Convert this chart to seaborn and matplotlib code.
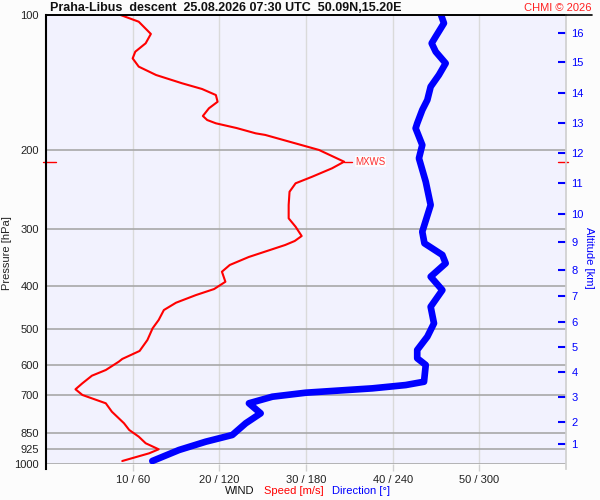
import numpy as np
import pandas as pd
import matplotlib
matplotlib.use('Agg')
import matplotlib.pyplot as plt
from matplotlib.lines import Line2D
from matplotlib.ticker import NullLocator, NullFormatter
import seaborn as sns

# wind speed profile (descent), pressure [hPa] / speed [m/s]
speed_p = [100.0, 103.5, 110.2, 115.6, 120.7, 124.9, 130.3, 136.0, 141.9, 146.1,
           150.7, 156.0, 161.3, 167.8, 171.3, 174.2, 178.5, 183.4, 184.9, 199.7,
           212.1, 219.4, 229.1, 236.9, 247.4, 264.8, 283.5, 296.0, 310.4, 318.4,
           325.0, 345.6, 360.1, 372.7, 392.4, 407.3, 420.1, 436.9, 453.6, 477.3,
           498.1, 528.9, 559.4, 582.8, 591.0, 616.8, 635.0, 660.2, 680.8, 701.0,
           731.5, 763.7, 810.3, 838.6, 867.9, 897.7, 926.0, 945.2, 978.2, 983.3]
speed_ms = [8.6, 10.7, 12.1, 11.5, 10.3, 10.0, 10.7, 12.7, 15.7, 18.0,
            19.6, 19.8, 18.8, 18.1, 18.6, 19.6, 22.0, 24.2, 25.3, 31.5,
            34.4, 33.0, 30.7, 28.8, 28.1, 28.0, 28.0, 28.8, 29.5, 28.7,
            27.6, 23.4, 21.2, 20.3, 20.7, 19.4, 17.3, 15.0, 13.6, 13.0,
            12.3, 11.7, 10.8, 8.8, 8.4, 6.9, 5.3, 4.2, 3.4, 4.2,
            6.9, 7.6, 9.0, 9.6, 10.7, 11.5, 13.0, 11.9, 9.2, 8.8]

# wind direction profile, pressure [hPa] / direction [deg]
dir_p = [100.0, 104.3, 111.7, 115.6, 120.7, 128.1, 136.0, 144.4, 154.6, 162.7,
         174.2, 178.7, 194.7, 208.4, 235.0, 264.8, 303.6, 322.2, 342.0, 357.0,
         382.3, 409.5, 446.0, 485.6, 520.0, 556.6, 580.8, 601.1, 655.0, 666.2,
         677.6, 692.9, 707.2, 731.5, 770.1, 810.3, 860.4, 890.6, 929.3, 983.3]
dir_deg = [273.5, 275.5, 269.8, 267.0, 269.8, 276.7, 272.0, 266.3, 264.0, 260.5,
           257.0, 255.9, 260.5, 258.2, 262.9, 266.3, 260.5, 262.0, 274.4, 276.7,
           266.3, 274.4, 266.3, 268.6, 264.0, 257.0, 257.0, 262.9, 261.7, 249.0,
           225.9, 179.8, 156.7, 140.5, 148.6, 138.3, 129.0, 110.6, 92.1, 73.6]

# altitude scale on the right
alt_km = list(range(1, 17))
alt_p = [902.8, 803.9, 708.4, 624.2, 549.1, 483.1, 423.0, 368.8,
         319.6, 276.8, 236.9, 203.1, 173.6, 149.4, 127.4, 109.8]

p_ticks = [100, 200, 300, 400, 500, 600, 700, 850, 925, 1000]
speed_ticks = [10, 20, 30, 40, 50]
dir_ticks = [60, 120, 180, 240, 300]

mxws_p = 212.1
mxws_speed = 34.4

sns.set_theme(style='white')
plt.rcParams['font.family'] = ['Liberation Sans', 'DejaVu Sans']

fig = plt.figure(figsize=(6, 5), dpi=100, facecolor='#fcfcfc')
ax = fig.add_axes([46 / 600, 1 - 464.3 / 500, 520 / 600, 449.3 / 500])
ax.set_facecolor('#f2f2fe')

sns.lineplot(x=speed_ms, y=speed_p, sort=False, estimator=None,
             color='#ff0000', linewidth=1.5, solid_joinstyle='round', ax=ax)
ax.set_yscale('log')
ax.set_ylim(1000, 100)
ax.set_xlim(0, 60)
ax.set_yticks(p_ticks, labels=[str(p) for p in p_ticks])
ax.yaxis.set_minor_locator(NullLocator())
ax.yaxis.set_minor_formatter(NullFormatter())
ax.set_xticks(speed_ticks, labels=[f"{s} / {d}" for s, d in zip(speed_ticks, dir_ticks)])
ax.grid(axis='y', color='#a8a8a8', lw=1.2)
ax.grid(axis='x', color='#dadada', lw=1.0)
ax.tick_params(axis='y', length=0, pad=5, labelsize=8, labelcolor='#222222')
ax.tick_params(axis='x', length=5, width=1, color='#d0d0d0', pad=3,
               labelsize=8, labelcolor='#222222', bottom=True)
ax.set_xlabel('')
ax.set_ylabel('Pressure [hPa]', fontsize=8, color='#222222')
ax.yaxis.set_label_coords(-0.066, 0.47)
for side in ['right', 'bottom']:
    ax.spines[side].set_visible(False)
ax.spines['left'].set_color('black')
ax.spines['left'].set_linewidth(1.5)
ax.spines['left'].set_bounds(1024, 100)
ax.spines['top'].set_color('black')
ax.spines['top'].set_linewidth(1.2)

# direction on its own x scale (0-360) sharing pressure
ax_dir = ax.twiny()
sns.lineplot(x=dir_deg, y=dir_p, sort=False, estimator=None,
             color='#0000ff', linewidth=4.8, solid_capstyle='round',
             solid_joinstyle='round', ax=ax_dir)
ax_dir.set_xlim(0, 360)
ax_dir.set_xticks([])
ax_dir.set_xlabel('')
ax_dir.set_ylabel('')
for s in ax_dir.spines.values():
    s.set_visible(False)

# altitude axis
ax_alt = ax.twinx()
ax_alt.set_yscale('log')
ax_alt.set_ylim(1000, 100)
ax_alt.set_yticks(alt_p, labels=[str(k) for k in alt_km])
ax_alt.yaxis.set_minor_locator(NullLocator())
ax_alt.yaxis.set_minor_formatter(NullFormatter())
ax_alt.tick_params(axis='y', direction='in', length=6, width=1.5, color='#0000ff',
                   labelcolor='#0000ff', labelsize=8, pad=4)
ax_alt.set_ylabel('Altitude [km]', rotation=270, color='#0000ff', fontsize=8,
                  ha='center', va='center')
ax_alt.yaxis.set_label_coords(1.044, 0.46)
for side in ['left', 'top', 'bottom']:
    ax_alt.spines[side].set_visible(False)
ax_alt.spines['right'].set_color('#d0d0d0')
ax_alt.spines['right'].set_bounds(1024, 100)

# maximum wind marker
trans = ax.get_yaxis_transform()
ax.plot([-0.006, 0.019], [mxws_p, mxws_p], transform=trans, color='red', lw=1, clip_on=False)
ax.plot([0.984, 1.004], [mxws_p, mxws_p], transform=trans, color='red', lw=1, clip_on=False)
ax.plot([mxws_speed, mxws_speed + 0.9], [mxws_p, mxws_p], color='red', lw=1)
ax.text(mxws_speed + 1.3, mxws_p, 'MXWS', color='#ff3030', fontsize=7, va='center', ha='left',
        bbox=dict(facecolor='white', edgecolor='none', pad=0.5, alpha=0.8))

# header / footer texts
fig.add_artist(Line2D([46 / 600, 592 / 600], [1 - 15 / 500, 1 - 15 / 500], color='black', lw=1.2))
fig.text(50 / 600, 1 - 8 / 500, 'Praha-Libus  descent  25.08.2026 07:30 UTC  50.09N,15.20E',
         fontsize=9, fontweight='bold', color='#111111', ha='left', va='center')
fig.text(592 / 600, 1 - 8 / 500, 'CHMI © 2026', fontsize=8, color='#ff2020', ha='right', va='center')
fig.text(225 / 600, 1 - 491 / 500, 'WIND', fontsize=8, color='#111111', ha='left', va='center')
fig.text(264 / 600, 1 - 491 / 500, 'Speed [m/s]', fontsize=8, color='#ff0000', ha='left', va='center')
fig.text(332 / 600, 1 - 491 / 500, 'Direction [°]', fontsize=8, color='#0000ff', ha='left', va='center')

fig.savefig('out.png', dpi=100, facecolor=fig.get_facecolor())
